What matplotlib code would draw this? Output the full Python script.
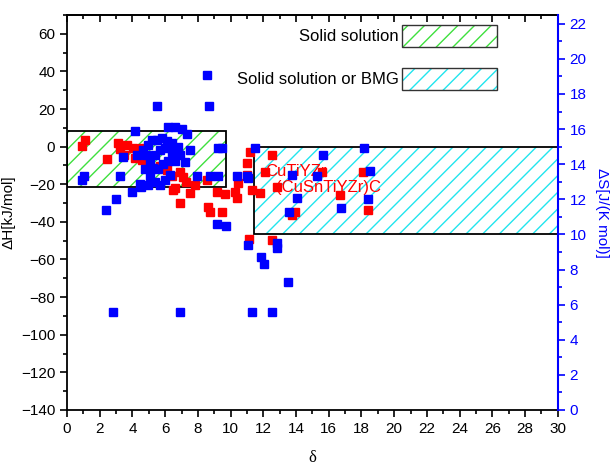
import numpy as np
import matplotlib
matplotlib.use('Agg')
from matplotlib import pyplot as plt
from matplotlib.patches import Rectangle, Patch
from matplotlib.ticker import MultipleLocator

plt.rcParams['font.family'] = ['Liberation Sans', 'DejaVu Sans']
plt.rcParams['hatch.linewidth'] = 1.0

# Enthalpy of mixing (left axis, red)
xH = [0.92, 1.10, 2.44, 3.12, 3.24, 3.48, 3.67, 4.03, 4.58, 4.15, 4.89, 4.58,
      5.50, 5.68, 6.11, 6.41, 6.90, 6.60, 7.09, 7.27, 6.90, 7.51, 8.55, 9.16,
      9.65, 10.26, 10.38, 8.61, 8.74, 9.47, 10.45, 7.82, 11.12, 11.18, 11.0,
      11.0, 11.3, 11.79, 12.52, 12.10, 12.83, 13.74, 13.93, 15.58, 16.68,
      18.08, 18.39, 12.52, 6.48]
dH = [0.35, 3.5, -6.6, 1.9, -1.2, -4.4, 0.9, -0.7, -0.7, -6.0, -7.1, -7.1,
      -11.3, -10.3, -12.4, -15.6, -13.5, -22.0, -16.1, -18.8, -30.0, -24.6,
      -17.7, -24.1, -25.2, -24.1, -27.3, -32.1, -34.7, -34.7, -19.3, -20.4,
      -49.1, -2.8, -8.7, -15.1, -23.0, -24.6, -4.4, -13.5, -21.4, -36.3,
      -34.7, -13.5, -25.7, -13.5, -33.7, -49.6, -23.0]

# Entropy of mixing (right axis, blue)
xS = [0.92, 1.04, 3.24, 3.42, 4.15, 4.28, 5.50, 8.55, 8.67, 2.38, 2.99, 3.97,
      4.52, 6.17, 6.60, 7.03, 7.33, 7.51, 9.22, 9.47, 7.94, 8.74, 9.22, 10.38,
      11.0, 9.16, 9.71, 11.06, 11.48, 11.06, 15.64, 13.74, 15.27, 14.05, 13.56,
      16.74, 18.14, 18.51, 18.39, 12.83, 12.83, 11.85, 12.03, 13.5, 11.3,
      12.52, 2.81, 6.90,
      4.64, 4.95, 5.19, 5.50, 5.80, 6.11, 6.41, 5.07, 5.38, 5.68, 5.99, 4.76,
      5.07, 5.38, 5.68, 5.99, 6.29, 6.60, 6.41, 6.78, 6.90, 7.21, 5.56, 5.86,
      6.17, 4.95, 4.46, 5.25, 4.83]
dS = [13.1, 13.3, 13.3, 14.4, 15.9, 14.5, 17.3, 19.1, 17.3, 11.4, 12.0, 12.4,
      12.7, 16.1, 16.1, 16.0, 15.7, 14.8, 14.9, 14.9, 13.3, 13.3, 13.3, 13.3,
      13.3, 10.6, 10.5, 9.4, 14.9, 13.2, 14.5, 13.4, 13.3, 12.1, 11.3,
      11.5, 14.9, 13.6, 12.0, 9.5, 9.2, 8.7, 8.3, 7.3, 5.6,
      5.6, 5.6, 5.6,
      14.8, 15.1, 15.4, 15.4, 15.5, 15.3, 15.2, 14.2, 14.5, 14.8, 14.9, 13.7,
      13.3, 13.0, 12.8, 13.1, 13.4, 14.2, 14.7, 15.0, 14.5, 14.1, 13.7, 14.0,
      14.2, 12.8, 12.9, 13.8, 14.5]

# Criteria boxes (delta range, dH range)
ss_delta = [0, 9.7]
ss_dH = [-21.5, 8.3]
bmg_delta = [11.4, 30]
bmg_dH = [-46.7, 0]

# Alloy labels
labels = ['CuTiYZr', '(CuSnTiYZr)C']
label_x = [12.1, 12.8]
label_y = [-13.0, -21.8]

fig = plt.figure(figsize=(6.15, 4.68), dpi=100)
ax = fig.add_axes([0.109, 0.124, 0.798, 0.844])
ax2 = ax.twinx()

ax.add_patch(Rectangle((ss_delta[0], ss_dH[0]), ss_delta[1] - ss_delta[0], ss_dH[1] - ss_dH[0],
                       facecolor='none', edgecolor='#3ee03e', hatch='//', lw=0, zorder=1))
ax.add_patch(Rectangle((ss_delta[0], ss_dH[0]), ss_delta[1] - ss_delta[0], ss_dH[1] - ss_dH[0],
                       facecolor='none', edgecolor='black', lw=1.3, zorder=1.5))
ax.add_patch(Rectangle((bmg_delta[0], bmg_dH[0]), bmg_delta[1] - bmg_delta[0], bmg_dH[1] - bmg_dH[0],
                       facecolor='none', edgecolor='#22e5ee', hatch='//', lw=0, zorder=1))
ax.add_patch(Rectangle((bmg_delta[0], bmg_dH[0]), bmg_delta[1] - bmg_delta[0], bmg_dH[1] - bmg_dH[0],
                       facecolor='none', edgecolor='black', lw=1.3, zorder=1.5))

ax.plot(xH, dH, 's', color='#ff0000', mec='#ff0000', ms=6, zorder=3)
ax2.plot(xS, dS, 's', color='#0000ff', mec='#0000ff', ms=6, zorder=3)

for t, tx, ty in zip(labels, label_x, label_y):
    ax.text(tx, ty, t, color='red', fontsize=12, va='center', zorder=4)

ax.set_xlim(0, 30)
ax.set_ylim(-140, 70)
ax2.set_ylim(0, 22.5)

ax.xaxis.set_major_locator(MultipleLocator(2))
ax.xaxis.set_minor_locator(MultipleLocator(1))
ax.yaxis.set_major_locator(MultipleLocator(20))
ax.yaxis.set_minor_locator(MultipleLocator(10))
ax2.yaxis.set_major_locator(MultipleLocator(2))
ax2.yaxis.set_minor_locator(MultipleLocator(1))

ax.tick_params(axis='both', which='major', direction='out', length=5, width=1.2, labelsize=11)
ax.tick_params(axis='both', which='minor', direction='out', length=3, width=1.2)
ax.tick_params(axis='y', right=False)

top = ax.secondary_xaxis('top')
top.xaxis.set_major_locator(MultipleLocator(2))
top.xaxis.set_minor_locator(MultipleLocator(1))
top.tick_params(which='major', direction='in', length=5, width=1.2, labeltop=False)
top.tick_params(which='minor', direction='in', length=3, width=1.2)
top.spines['top'].set_linewidth(1.3)

ax2.tick_params(axis='y', which='major', direction='out', length=5, width=1.2,
                colors='#0000ff', labelsize=11)
ax2.tick_params(axis='y', which='minor', direction='out', length=3, width=1.2, colors='#0000ff')
ax2.spines['right'].set_color('#0000ff')
ax2.spines['right'].set_linewidth(1.5)
for s in ['left', 'bottom', 'top']:
    ax.spines[s].set_linewidth(1.3)
    ax2.spines[s].set_visible(False)
ax.spines['right'].set_visible(False)

ax.set_ylabel('ΔH[kJ/mol]', fontsize=11, labelpad=4)
ax2.set_ylabel('ΔS[J/(K mol)]', fontsize=11, color='#0000ff', rotation=270, labelpad=16)
ax.set_xlabel('δ', fontsize=12, family=['Liberation Serif', 'DejaVu Serif'], labelpad=10)

handles = [Patch(facecolor='white', edgecolor='#333333', hatch='//', label='Solid solution'),
           Patch(facecolor='white', edgecolor='#333333', hatch='//', label='Solid solution or BMG')]
leg = ax.legend(handles=handles, loc='upper right', bbox_to_anchor=(0.876, 0.975),
                frameon=False, markerfirst=False, fontsize=12, handlelength=5.7,
                handleheight=1.65, labelspacing=1.25, borderpad=0, borderaxespad=0,
                handletextpad=0.2)
for h, c in zip(leg.legend_handles, ['#3ee03e', '#22e5ee']):
    h._hatch_color = matplotlib.colors.to_rgba(c)

fig.savefig('out.png', dpi=100)
